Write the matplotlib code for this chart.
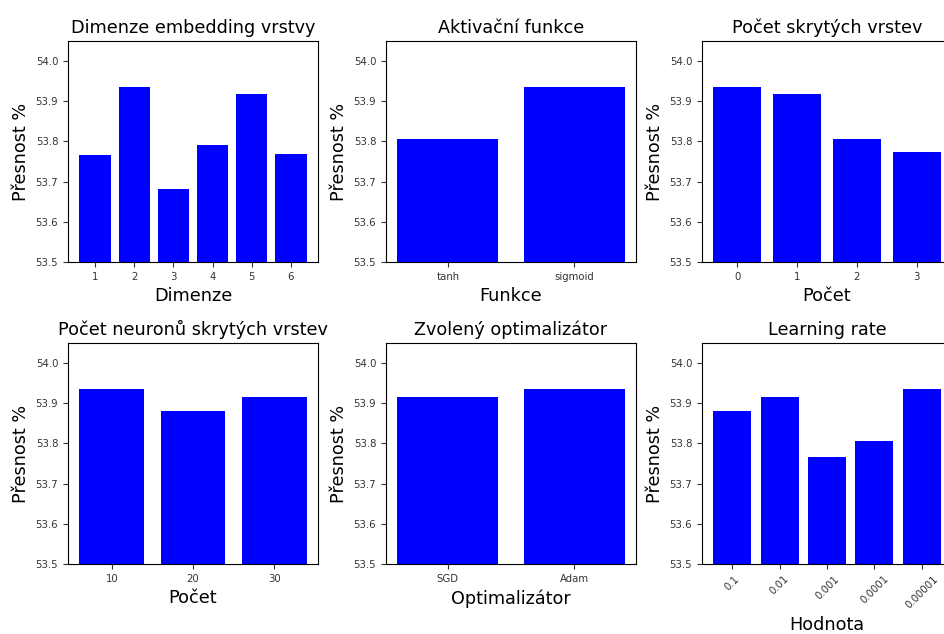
import matplotlib
matplotlib.use("Agg")
import matplotlib.pyplot as plt

ylabel = "Přesnost %"

dim_labels = ["1", "2", "3", "4", "5", "6"]
dim_values = [53.767, 53.936, 53.681, 53.792, 53.918, 53.770]

act_labels = ["tanh", "sigmoid"]
act_values = [53.805, 53.936]

layers_labels = ["0", "1", "2", "3"]
layers_values = [53.936, 53.917, 53.805, 53.775]

neurons_labels = ["10", "20", "30"]
neurons_values = [53.936, 53.881, 53.916]

opt_labels = ["SGD", "Adam"]
opt_values = [53.916, 53.936]

lr_labels = ["0.1", "0.01", "0.001", "0.0001", "0.00001"]
lr_values = [53.881, 53.916, 53.767, 53.806, 53.936]

panels = [
	("Dimenze embedding vrstvy", "Dimenze", dim_labels, dim_values),
	("Aktivační funkce", "Funkce", act_labels, act_values),
	("Počet skrytých vrstev", "Počet", layers_labels, layers_values),
	("Počet neuronů skrytých vrstev", "Počet", neurons_labels, neurons_values),
	("Zvolený optimalizátor", "Optimalizátor", opt_labels, opt_values),
	("Learning rate", "Hodnota", lr_labels, lr_values),
]

W, H = 945, 634
fig = plt.figure(figsize=(W / 100, H / 100), dpi=100)

# axes boxes in pixels: left, top, width, height
lefts = [68, 386, 702]
tops = [41, 343]
aw, ah = 250, 221

for i, (title, xlabel, labels, values) in enumerate(panels):
	row, col = divmod(i, 3)
	l = lefts[col]
	t = tops[row]
	ax = fig.add_axes([l / W, 1 - (t + ah) / H, aw / W, ah / H])
	ax.bar(labels, values, color="blue", width=0.8)
	ax.set_ylim(53.5, 54.05)
	ax.set_yticks([53.5, 53.6, 53.7, 53.8, 53.9, 54.0])
	ax.tick_params(labelsize=7.3, colors="#333333", labelcolor="#333333")
	ax.set_title(title, fontsize=12.7)
	ax.set_xlabel(xlabel, fontsize=12.7)
	ax.set_ylabel(ylabel, fontsize=12.7)
	if i == 5:
		plt.setp(ax.get_xticklabels(), rotation=45)

fig.savefig("out.png", dpi=100)
